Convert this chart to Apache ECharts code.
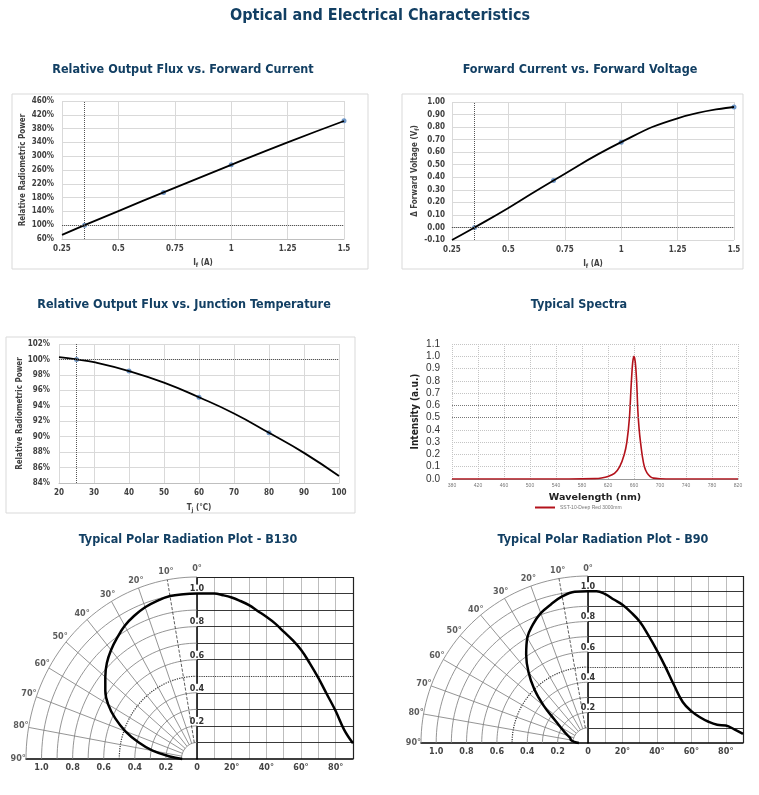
<!DOCTYPE html>
<html>
<head>
<meta charset="utf-8">
<script src="https://cdn.jsdelivr.net/npm/echarts@6/dist/echarts.min.js"></script>
<style>
  html, body { margin: 0; padding: 0; background: #fff; }
  #chart { width: 759px; height: 795px; }
</style>
</head>
<body>
<div id="chart"></div>
<script>
  // 相对光通量 vs 正向电流
  var ifFitX = [0.25, 0.35, 0.5, 0.7, 1.0, 1.25, 1.5];
  var fluxFitY = [72, 100, 141, 195, 275, 340, 402];
  var ifPointX = [0.35, 0.7, 1.0, 1.5];
  var fluxPointY = [100, 195, 275, 403];
  var fluxTicks = [60, 100, 140, 180, 220, 260, 300, 340, 380, 420, 460];

  // 正向电压变化 vs 正向电流
  var vfFitX = [0.25, 0.35, 0.5, 0.7, 1.0, 1.25, 1.5];
  var vfFitY = [-0.10, 0.0, 0.155, 0.375, 0.68, 0.87, 0.96];
  var vfPointY = [0.0, 0.375, 0.68, 0.96];

  // 相对光通量 vs 结温
  var tjFitX = [20, 25, 30, 40, 50, 60, 70, 80, 90, 100];
  var tjFitY = [100.3, 100, 99.65, 98.5, 97.0, 95.1, 93.0, 90.5, 87.9, 84.9];
  var tjPointX = [25, 40, 60, 80];
  var tjPointY = [100, 98.5, 95.1, 90.5];

  // 参考线
  var refCurrent = [0.35];
  var refTemp = [25];

  // 光谱
  var wavelength = [380, 560, 600, 610, 620, 630, 638, 645, 649, 653, 655.5, 658, 660, 662, 664, 666, 668, 670, 673, 676, 680, 685, 690, 700, 720, 820];
  var intensity = [0, 0, 0.003, 0.008, 0.02, 0.045, 0.1, 0.2, 0.3, 0.5, 0.75, 0.95, 1.0, 0.95, 0.8, 0.55, 0.4, 0.3, 0.18, 0.1, 0.05, 0.02, 0.007, 0.002, 0, 0];
  var wlTicks = [380, 420, 460, 500, 540, 580, 620, 660, 700, 740, 780, 820];
  var spectrumName = 'SST-10-Deep Red 3000mm';

  // 配光曲线
  var angleB130 = [0, 5, 10, 15, 20, 25, 30, 35, 40, 45, 50, 55, 60, 65, 70, 75, 80, 85, 90];
  var relB130 = [1.0, 1.0, 1.0, 0.99, 0.976, 0.955, 0.93, 0.895, 0.86, 0.82, 0.77, 0.72, 0.66, 0.58, 0.49, 0.39, 0.29, 0.175, 0.095];
  var angleB90 = [0, 5, 10, 15, 20, 25, 30, 35, 40, 45, 50, 55, 60, 65, 70, 75, 80, 85, 90];
  var relB90 = [1.0, 1.0, 0.98, 0.945, 0.91, 0.86, 0.80, 0.71, 0.61, 0.50, 0.38, 0.27, 0.21, 0.17, 0.14, 0.12, 0.115, 0.09, 0.06];
  var angleTicks = [0, 10, 20, 30, 40, 50, 60, 70, 80, 90];
  var radiusLevels = [0.1, 0.2, 0.3, 0.4, 0.5, 0.6, 0.7, 0.8, 0.9, 1.0, 1.1];
  var radiusLabels = [-1.0, -0.8, -0.6, -0.4, -0.2, 0];
  var levelLabels = [0.2, 0.4, 0.6, 0.8, 1.0];

  var narrow = "'Liberation Sans Narrow', 'DejaVu Sans Condensed', 'Arial Narrow', sans-serif";
  var navy = '#123f63';
  var labelGray = '#404040';

  function pairs(xs, ys) {
    return xs.map(function (x, i) { return [x, ys[i]]; });
  }
  function toPolar(a, r) {
    var t = a * Math.PI / 180;
    return [-r * Math.sin(t), r * Math.cos(t)];
  }
  function polarPts(angles, vals) {
    return angles.map(function (a, i) { return toPolar(a, vals[i]); });
  }

  var subRich = {
    a: { fontSize: 8, fontWeight: 'bold', color: labelGray, fontFamily: narrow },
    b: { fontSize: 6, fontWeight: 'bold', color: labelGray, fontFamily: narrow, padding: [4, 0, 0, 0] }
  };

  function excelAxisLabel(extra) {
    var o = { fontSize: 8, fontWeight: 'bold', color: labelGray, fontFamily: narrow };
    for (var k in extra) o[k] = extra[k];
    return o;
  }
  var excelSplit = { show: true, lineStyle: { color: '#d9d9d9', width: 1 } };
  var refLine = { type: 'dotted', color: '#555', width: 1 };

  // 极坐标网格（用直角坐标画出）
  function polarGridSeries(gi) {
    var list = [];
    radiusLevels.forEach(function (r, k) {
      var pts = [];
      for (var a = 0; a <= 90; a += 2) pts.push(toPolar(a, r));
      var s = {
        type: 'line', xAxisIndex: gi, yAxisIndex: gi, data: pts, showSymbol: false, silent: true, clip: false,
        lineStyle: { color: r === 0.5 ? '#333' : '#7a7a7a', width: r === 0.5 ? 1.2 : 0.8, type: r === 0.5 ? 'dotted' : 'solid' }
      };
      if (k === 0) {
        // 0° 竖线，放在底层，让刻度文字压在上面
        s.markLine = { silent: true, z: 1, symbol: 'none', label: { show: false },
          lineStyle: { color: '#000', width: 1.5, type: 'solid' }, data: [{ xAxis: 0 }] };
      }
      list.push(s);
    });
    angleTicks.forEach(function (a) {
      if (a === 0 || a === 90) return;
      list.push({
        type: 'line', xAxisIndex: gi, yAxisIndex: gi, data: [toPolar(a, 0.1), toPolar(a, 1.1)], showSymbol: false, silent: true, clip: false,
        lineStyle: { color: a === 10 ? '#333' : '#7a7a7a', width: 0.8, type: a === 10 ? 'dashed' : 'solid' }
      });
    });
    list.push({
      type: 'scatter', xAxisIndex: gi, yAxisIndex: gi, symbolSize: 0, silent: true, clip: false,
      data: angleTicks.map(function (a) {
        return { value: toPolar(a, 1.15), label: { formatter: a + '°' } };
      }),
      label: { show: true, position: 'inside', fontSize: 9, fontWeight: 'bold', color: '#333', fontFamily: narrow }
    });
    return list;
  }

  function polarCurveSeries(gi, angles, vals) {
    return [
      {
        type: 'line', xAxisIndex: gi, yAxisIndex: gi, data: polarPts(angles, vals), smooth: 0.4, showSymbol: false, clip: false,
        lineStyle: { color: '#000', width: 2.5 }, z: 5
      },
      {
        type: 'line', xAxisIndex: gi + 1, yAxisIndex: gi + 1, data: pairs(angles, vals), smooth: 0.4,
        showSymbol: false, clip: false, lineStyle: { color: '#000', width: 2.5 }, z: 5,
        markLine: {
          silent: true, symbol: 'none', label: { show: false },
          data: radiusLevels.map(function (v) {
            return { yAxis: v, lineStyle: { color: v === 0.5 ? '#111' : '#222', width: v === 1.1 ? 1.2 : 0.9, type: v === 0.5 ? 'dotted' : 'solid' } };
          }).concat([{ xAxis: 90, lineStyle: { color: '#222', width: 1.2, type: 'solid' } }])
        }
      }
    ];
  }

  function polarAxes(gi) {
    var x = [
      {
        gridIndex: gi, type: 'value', min: -1.1, max: 0,
        axisLine: { lineStyle: { color: '#000', width: 1.5 } }, axisTick: { show: false }, splitLine: { show: false },
        axisLabel: {
          customValues: radiusLabels, margin: 4, fontSize: 9, fontWeight: 'bold', color: '#444', fontFamily: narrow,
          formatter: function (v) { return v === 0 ? '0' : Math.abs(v).toFixed(1); }
        }
      },
      {
        gridIndex: gi + 1, type: 'value', min: 0, max: 90, interval: 10,
        axisLine: { lineStyle: { color: '#000', width: 1.5 } }, axisTick: { show: false },
        splitLine: { show: true, lineStyle: { color: '#b5b5b5', width: 0.9 } },
        axisLabel: {
          margin: 4, fontSize: 9, fontWeight: 'bold', color: '#444', fontFamily: narrow,
          formatter: function (v) { return (v > 0 && v % 20 === 0) ? v + '°' : ''; }
        }
      }
    ];
    var y = [
      { gridIndex: gi, type: 'value', min: 0, max: 1.1, show: false },
      {
        gridIndex: gi + 1, type: 'value', min: 0, max: 1.1, interval: 0.1, z: 3,
        axisLine: { show: false }, axisTick: { show: false }, splitLine: { show: false },
        axisLabel: {
          customValues: levelLabels, inside: true, align: 'center', verticalAlign: 'bottom', margin: 0,
          fontSize: 9, fontWeight: 'bold', color: '#333', fontFamily: narrow,
          backgroundColor: '#fff', padding: [0, 1, 0, 1],
          formatter: function (v) { return v.toFixed(1); }
        }
      }
    ];
    return { x: x, y: y };
  }

  var p5 = polarAxes(4);
  var p6 = polarAxes(6);

  var chart = echarts.init(document.getElementById('chart'));
  var subTitleStyle = { fontSize: 12.5, fontWeight: 'bold', color: navy, fontFamily: narrow };

  chart.setOption({
    backgroundColor: '#fff',
    animation: false,
    title: [
      { text: 'Optical and Electrical Characteristics', left: 380, top: 8, textAlign: 'center', padding: 0,
        textStyle: { fontSize: 16, fontWeight: 'bold', color: navy, fontFamily: narrow } },
      { text: 'Relative Output Flux vs. Forward Current', left: 183, top: 63, textAlign: 'center', padding: 0, textStyle: subTitleStyle },
      { text: 'Forward Current vs. Forward Voltage', left: 580, top: 63, textAlign: 'center', padding: 0, textStyle: subTitleStyle },
      { text: 'Relative Output Flux vs. Junction Temperature', left: 184, top: 298, textAlign: 'center', padding: 0, textStyle: subTitleStyle },
      { text: 'Typical Spectra', left: 579, top: 298, textAlign: 'center', padding: 0, textStyle: subTitleStyle },
      { text: 'Typical Polar Radiation Plot - B130', left: 188, top: 533, textAlign: 'center', padding: 0, textStyle: subTitleStyle },
      { text: 'Typical Polar Radiation Plot - B90', left: 603, top: 533, textAlign: 'center', padding: 0, textStyle: subTitleStyle }
    ],
    graphic: [
      { type: 'rect', silent: true, shape: { x: 12, y: 94, width: 356, height: 175 }, style: { fill: 'none', stroke: '#d9d9d9', lineWidth: 1 } },
      { type: 'rect', silent: true, shape: { x: 402, y: 94, width: 341, height: 175 }, style: { fill: 'none', stroke: '#d9d9d9', lineWidth: 1 } },
      { type: 'rect', silent: true, shape: { x: 6, y: 337, width: 349, height: 176 }, style: { fill: 'none', stroke: '#d9d9d9', lineWidth: 1 } }
    ],
    legend: {
      data: [spectrumName], left: 535, top: 505, padding: 0, icon: 'rect', itemWidth: 20, itemHeight: 2, itemGap: 2,
      textStyle: { fontSize: 5, color: '#777' }
    },
    grid: [
      { left: 62, top: 101, width: 282, height: 138 },
      { left: 452, top: 102, width: 282, height: 138 },
      { left: 59, top: 344, width: 280, height: 139 },
      { left: 452, top: 344, width: 286, height: 135 },
      { left: 26, top: 577, width: 171, height: 182 },
      { left: 197, top: 577, width: 156, height: 182 },
      { left: 421, top: 576, width: 167, height: 167 },
      { left: 588, top: 576, width: 155, height: 167 }
    ],
    xAxis: [
      {
        gridIndex: 0, type: 'value', min: 0.25, max: 1.5, interval: 0.25,
        axisLine: { lineStyle: { color: '#bfbfbf' } }, axisTick: { show: false }, splitLine: excelSplit,
        axisLabel: excelAxisLabel({ margin: 6 }),
        name: '{a|I}{b|f}{a| (A)}', nameLocation: 'middle', nameGap: 19, nameTextStyle: { rich: subRich }
      },
      {
        gridIndex: 1, type: 'value', min: 0.25, max: 1.5, interval: 0.25,
        axisLine: { lineStyle: { color: '#bfbfbf' } }, axisTick: { show: false }, splitLine: excelSplit,
        axisLabel: excelAxisLabel({ margin: 6 }),
        name: '{a|I}{b|f}{a| (A)}', nameLocation: 'middle', nameGap: 19, nameTextStyle: { rich: subRich }
      },
      {
        gridIndex: 2, type: 'value', min: 20, max: 100, interval: 10,
        axisLine: { lineStyle: { color: '#bfbfbf' } }, axisTick: { show: false }, splitLine: excelSplit,
        axisLabel: excelAxisLabel({ margin: 6 }),
        name: '{a|T}{b|j}{a| (°C)}', nameLocation: 'middle', nameGap: 20, nameTextStyle: { rich: subRich }
      },
      {
        gridIndex: 3, type: 'value', min: 380, max: 820,
        axisLine: { lineStyle: { color: '#999' } },
        axisTick: { show: false, customValues: wlTicks },
        splitLine: { show: true, lineStyle: { type: 'dotted', color: '#c4c4c4' } },
        axisLabel: { customValues: wlTicks, fontSize: 5, color: '#777', margin: 4 },
        name: 'Wavelength (nm)', nameLocation: 'middle', nameGap: 14,
        nameTextStyle: { fontSize: 9.5, fontWeight: 'bold', color: '#222', fontFamily: 'DejaVu Sans' }
      },
      p5.x[0], p5.x[1], p6.x[0], p6.x[1]
    ],
    yAxis: [
      {
        gridIndex: 0, type: 'value', min: 60, max: 460,
        axisLine: { show: false }, axisTick: { show: false, customValues: fluxTicks }, splitLine: excelSplit,
        axisLabel: excelAxisLabel({ customValues: fluxTicks, margin: 8, formatter: '{value}%' }),
        name: 'Relative Radiometric Power', nameLocation: 'middle', nameGap: 35,
        nameTextStyle: { fontSize: 8, fontWeight: 'bold', color: labelGray, fontFamily: narrow }
      },
      {
        gridIndex: 1, type: 'value', min: -0.1, max: 1.0, interval: 0.1,
        axisLine: { show: false }, axisTick: { show: false }, splitLine: excelSplit,
        axisLabel: excelAxisLabel({ margin: 7, formatter: function (v) { return v.toFixed(2); } }),
        name: '{a|Δ Forward Voltage (V}{b|f}{a|)}', nameLocation: 'middle', nameGap: 29, nameTextStyle: { rich: subRich }
      },
      {
        gridIndex: 2, type: 'value', min: 84, max: 102, interval: 2,
        axisLine: { show: false }, axisTick: { show: false }, splitLine: excelSplit,
        axisLabel: excelAxisLabel({ margin: 9, formatter: '{value}%' }),
        name: 'Relative Radiometric Power', nameLocation: 'middle', nameGap: 33,
        nameTextStyle: { fontSize: 8, fontWeight: 'bold', color: labelGray, fontFamily: narrow }
      },
      {
        gridIndex: 3, type: 'value', min: 0, max: 1.1, interval: 0.1,
        axisLine: { show: false }, axisTick: { show: false },
        splitLine: { show: true, lineStyle: { type: 'dotted', color: '#c4c4c4' } },
        axisLabel: { fontSize: 10, color: '#333', margin: 12, formatter: function (v) { return v.toFixed(1); } },
        name: 'Intensity (a.u.)', nameLocation: 'middle', nameGap: 32,
        nameTextStyle: { fontSize: 10, fontWeight: 'bold', color: '#222', fontFamily: narrow }
      },
      p5.y[0], p5.y[1], p6.y[0], p6.y[1]
    ],
    series: [
      {
        type: 'line', xAxisIndex: 0, yAxisIndex: 0, data: pairs(ifFitX, fluxFitY), smooth: true, showSymbol: false,
        lineStyle: { color: '#000', width: 1.8 },
        markLine: { silent: true, symbol: 'none', label: { show: false }, lineStyle: refLine,
          data: [{ xAxis: refCurrent[0] }, { yAxis: fluxPointY[0] }] }
      },
      { type: 'scatter', xAxisIndex: 0, yAxisIndex: 0, data: pairs(ifPointX, fluxPointY), symbolSize: 5, itemStyle: { color: '#4f81bd' } },
      {
        type: 'line', xAxisIndex: 1, yAxisIndex: 1, data: pairs(vfFitX, vfFitY), smooth: true, showSymbol: false,
        lineStyle: { color: '#000', width: 1.8 },
        markLine: { silent: true, symbol: 'none', label: { show: false }, lineStyle: refLine,
          data: [{ xAxis: refCurrent[0] }, { yAxis: vfPointY[0] }] }
      },
      { type: 'scatter', xAxisIndex: 1, yAxisIndex: 1, data: pairs(ifPointX, vfPointY), symbolSize: 5, itemStyle: { color: '#4f81bd' } },
      {
        type: 'line', xAxisIndex: 2, yAxisIndex: 2, data: pairs(tjFitX, tjFitY), smooth: true, showSymbol: false,
        lineStyle: { color: '#000', width: 1.8 },
        markLine: { silent: true, symbol: 'none', label: { show: false }, lineStyle: refLine,
          data: [{ xAxis: refTemp[0] }, { yAxis: tjPointY[0] }] }
      },
      { type: 'scatter', xAxisIndex: 2, yAxisIndex: 2, data: pairs(tjPointX, tjPointY), symbolSize: 5, itemStyle: { color: '#4f81bd' } },
      {
        name: spectrumName, type: 'line', xAxisIndex: 3, yAxisIndex: 3, data: pairs(wavelength, intensity), smooth: 0.3, showSymbol: false,
        lineStyle: { color: '#b3121b', width: 1.6 }, itemStyle: { color: '#b3121b' },
        markLine: { silent: true, symbol: 'none', label: { show: false },
          lineStyle: { type: 'dotted', color: '#777', width: 1 }, data: [{ yAxis: 0.5 }, { yAxis: 0.6 }] }
      }
    ].concat(polarGridSeries(4), polarCurveSeries(4, angleB130, relB130), polarGridSeries(6), polarCurveSeries(6, angleB90, relB90))
  });
</script>
</body>
</html>
